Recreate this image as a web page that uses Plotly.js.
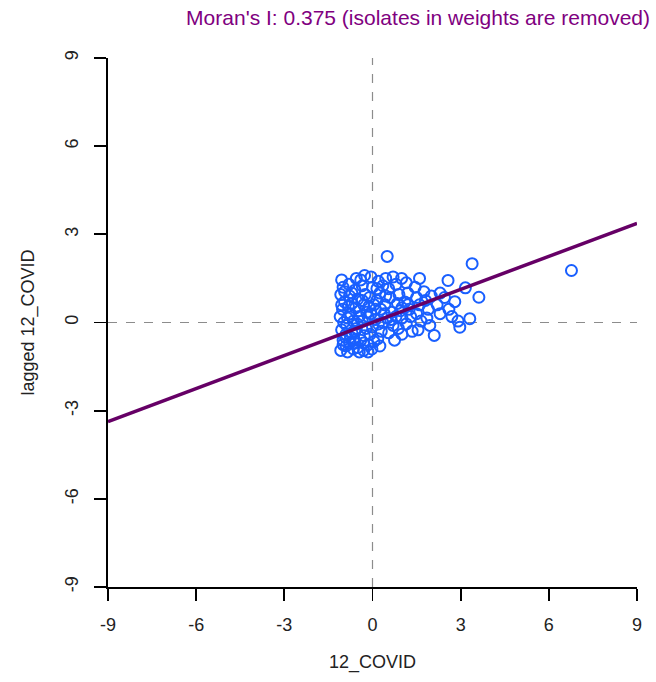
<!DOCTYPE html>
<html>
<head>
<meta charset="utf-8">
<script src="https://cdn.plot.ly/plotly-3.0.1.min.js"></script>
<style>html,body{margin:0;padding:0;background:#fff;}#chart{width:656px;height:682px;}</style>
</head>
<body>
<div id="chart"></div>
<script>
const titleText = "Moran's I: 0.375 (isolates in weights are removed)";
const xLabel = "12_COVID";
const yLabel = "lagged 12_COVID";
const moranI = 0.375;
const tickVals = [-9, -6, -3, 0, 3, 6, 9];
const axisRange = [-9, 9];

const covidX = [
  -1.05,-1.0,-1.08,-0.95,-1.02,-1.1,-0.98,-1.05,-0.92,-1.0,-1.08,-0.85,-0.8,-0.78,-0.82,-0.75,-0.88,-0.7,-0.78,-0.65,
  -0.55,-0.6,-0.5,-0.58,-0.45,-0.52,-0.6,-0.4,-0.5,-0.3,-0.35,-0.25,-0.3,-0.2,-0.35,-0.22,-0.28,-0.15,-0.4,-0.65,
  -0.05,0.0,-0.1,0.05,-0.05,0.1,0.0,-0.08,0.05,-0.02,0.2,0.25,0.15,0.28,0.2,0.3,0.18,0.25,
  0.5,0.45,0.55,0.6,0.42,0.65,0.5,0.7,0.55,0.75,0.8,0.9,0.85,0.95,1.0,0.88,1.0,0.7,0.35,0.4,
  1.15,1.2,1.1,1.25,1.3,1.15,1.35,1.45,1.5,1.6,1.5,1.65,1.55,1.75,1.8,1.9,1.85,2.0,1.95,2.1,
  2.2,2.3,2.45,2.57,2.6,2.8,2.91,2.97,3.16,3.31,3.39,3.62,6.77,2.3,2.7,
  -0.95,-0.7,-0.45,-0.15,0.1,-0.9,-0.62,-0.12,0.35,0.62,1.0,-0.27,0.99,1.6,-0.85,-0.55,
  -1.0,-0.9,-0.75,-0.6,-0.45,-0.3,-0.15,-1.05,-0.7,-0.35,0.15,0.45,0.8,1.2
];
const laggedY = [
  1.45,1.2,0.95,0.7,0.45,0.2,0.0,-0.25,-0.5,-0.75,-0.95,-1.0,1.3,0.9,0.55,0.3,-0.1,-0.35,-0.7,-0.9,
  1.5,1.1,0.8,0.5,0.2,-0.05,-0.3,-0.6,-0.85,-0.95,1.25,0.95,0.6,0.35,0.05,-0.2,-0.45,-0.75,1.45,0.05,
  1.55,1.2,0.85,0.6,0.3,0.1,-0.15,-0.4,-0.65,-0.9,1.4,1.0,0.75,0.45,-0.05,-0.3,-0.55,-0.8,
  2.25,1.5,1.15,0.85,0.6,0.35,0.15,-0.1,-0.35,-0.6,1.3,0.95,0.65,0.4,0.15,-0.2,-0.4,1.55,1.25,0.3,
  1.35,1.0,0.7,0.45,0.2,-0.05,-0.3,1.2,0.85,0.6,0.3,0.05,-0.25,1.05,0.75,0.45,0.15,0.9,-0.1,-0.44,
  0.6,0.3,0.85,1.43,0.45,0.71,0.05,-0.16,1.18,0.13,2.0,0.86,1.77,1.0,0.2,
  1.05,0.65,0.4,0.2,0.45,-0.4,-0.6,0.55,0.0,0.1,0.5,1.6,1.5,1.5,0.15,-0.2,
  -0.6,-0.8,-0.5,-0.7,-1.0,-0.7,-1.0,0.6,1.0,0.75,1.15,0.9,0.2,0.6
];

const regX = axisRange.slice();
const regY = regX.map(v => v * moranI);

const fontFam = 'Liberation Sans, Arial, sans-serif';
const traces = [
  {x: [0, 0], y: axisRange, mode: 'lines', line: {color: '#8c8c8c', width: 1.2, dash: 'dash'}, hoverinfo: 'skip', showlegend: false},
  {x: axisRange, y: [0, 0], mode: 'lines', line: {color: '#8c8c8c', width: 1.2, dash: 'dash'}, hoverinfo: 'skip', showlegend: false},
  {x: covidX, y: laggedY, mode: 'markers', type: 'scatter',
   marker: {symbol: 'circle-open', size: 11, color: 'rgb(25,95,255)', line: {width: 2, color: 'rgb(25,95,255)'}}, showlegend: false},
  {x: regX, y: regY, mode: 'lines', line: {color: '#660066', width: 3.5}, showlegend: false}
];

const axisCommon = {
  range: axisRange, tickvals: tickVals, ticktext: tickVals.map(String),
  showgrid: false, zeroline: false, showline: true, linecolor: '#000', linewidth: 1.8,
  ticks: 'outside', ticklen: 12, tickwidth: 1.8, tickcolor: '#000',
  tickfont: {family: fontFam, size: 18, color: '#222'},
  ticklabelstandoff: 9,
  fixedrange: true
};

const layout = {
  width: 656, height: 682,
  margin: {l: 108, r: 19, t: 58, b: 95},
  paper_bgcolor: '#fff', plot_bgcolor: '#fff',
  title: {text: titleText, font: {family: fontFam, size: 21, color: '#800080'},
          xref: 'container', x: 650/656, xanchor: 'right', yref: 'container', y: 1 - 18/682, yanchor: 'middle'},
  xaxis: Object.assign({}, axisCommon, {title: {text: xLabel, font: {family: fontFam, size: 18, color: '#222'}, standoff: 21}}),
  yaxis: Object.assign({}, axisCommon, {tickangle: -90, title: {text: yLabel, font: {family: fontFam, size: 18, color: '#222'}, standoff: 23}})
};

Plotly.newPlot('chart', traces, layout, {displayModeBar: false, staticPlot: true});
</script>
</body>
</html>
